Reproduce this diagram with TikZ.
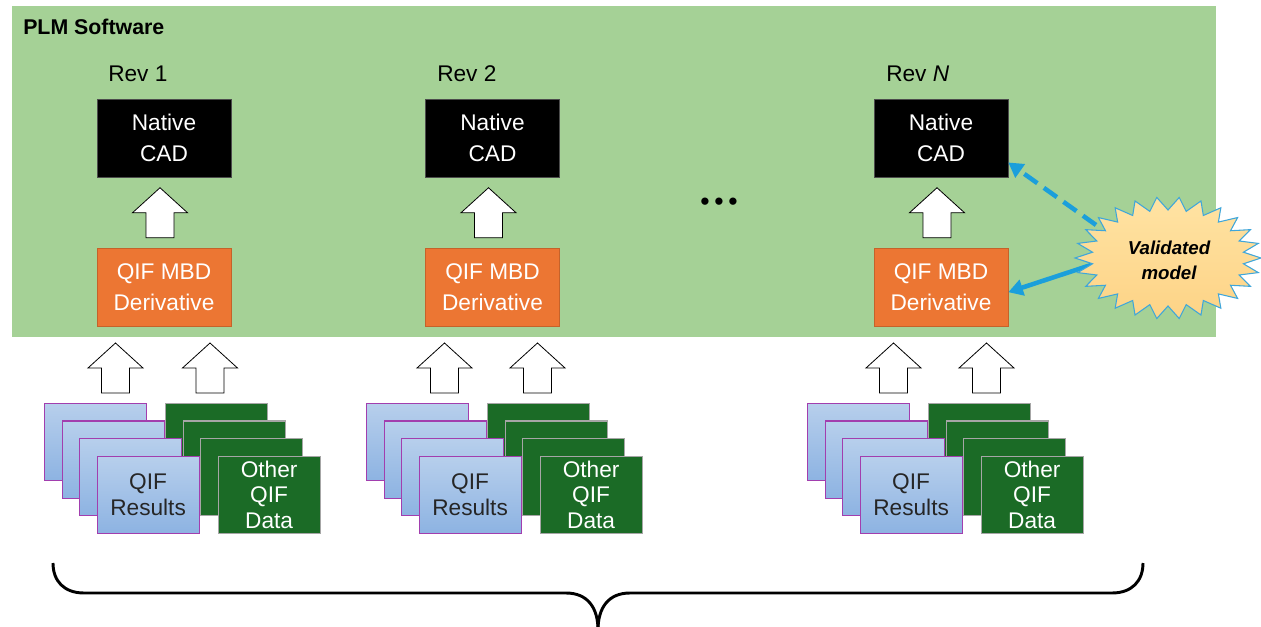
\documentclass[tikz,border=0pt]{standalone}
\usepackage{fontspec}
\setmainfont{Liberation Sans}
\usetikzlibrary{arrows.meta,calc}

\definecolor{plmgreen}{HTML}{A5D196}
\definecolor{mbdorange}{HTML}{EC7633}
\definecolor{mbdborder}{HTML}{C5622A}
\definecolor{resblueA}{HTML}{B7CFEC}
\definecolor{resblueB}{HTML}{8DB3E2}
\definecolor{resborder}{HTML}{A23EAE}
\definecolor{datagreen}{HTML}{1B6B26}
\definecolor{linkblue}{HTML}{1B9FDB}
\definecolor{burstfillA}{HTML}{FFE3A3}
\definecolor{burstfillB}{HTML}{FDD386}
\definecolor{burstedge}{HTML}{3FA6DA}

\begin{document}
\begin{tikzpicture}[x=0.75pt,y=-0.75pt,
  font=\fontsize{17}{20}\selectfont,
  cadbox/.style={fill=black, draw=black!70, text=white, minimum width=100.5pt,
    minimum height=58.5pt, align=center, inner sep=0pt,
    font=\fontsize{17}{23}\selectfont},
  mbdbox/.style={cadbox, fill=mbdorange, draw=mbdborder},
  revlabel/.style={anchor=base west, inner sep=0pt},
  card/.style={anchor=north west, minimum width=76.5pt, minimum height=57.75pt,
    inner sep=0pt, align=center, font=\fontsize{17}{19}\selectfont},
  rescard/.style={card, top color=resblueA, bottom color=resblueB,
    draw=resborder, line width=0.9pt, text=black!85},
  datacard/.style={card, fill=datagreen, draw=black!35, line width=0.9pt, text=white},
  arrowbox/.style={fill=white, draw=black, line width=0.6pt, line join=miter},
  uparrow/.pic={\path[arrowbox] (0,-25) -- (27.5,0) -- (14,0) -- (14,25)
    -- (-14,25) -- (-14,0) -- (-27.5,0) -- cycle;},
  link/.style={linkblue, line width=3.4pt, -{Triangle[length=11pt,width=12pt]}},
  burst/.style={top color=burstfillA, bottom color=burstfillB, draw=burstedge, line width=0.8pt},
]
\useasboundingbox (0,0) rectangle (1261,627);

% PLM software area
\fill[plmgreen] (12,6) rectangle (1216,337);
\node[revlabel, font=\fontsize{16}{18}\selectfont\bfseries] (plm) at (23,35) {PLM Software};

% revision labels
\node[revlabel] (rev1) at (108,82) {Rev 1};
\node[revlabel] (rev2) at (437,82) {Rev 2};
\node[revlabel] (revN) at (886,82) {Rev \textit{N}};

% native CAD models
\node[cadbox] (cad1) at (164,138) {Native\\CAD};
\node[cadbox] (cad2) at (492.5,138) {Native\\CAD};
\node[cadbox] (cadN) at (941,138) {Native\\CAD};

% QIF MBD derivatives
\node[mbdbox] (mbd1) at (164,287.5) {QIF MBD\\Derivative};
\node[mbdbox] (mbd2) at (492.5,287.5) {QIF MBD\\Derivative};
\node[mbdbox] (mbdN) at (941,287.5) {QIF MBD\\Derivative};

% derivative -> CAD block arrows
\pic at ($(cad1.south)!0.5!(mbd1.north)+(-4,0)$) {uparrow};
\pic at ($(cad2.south)!0.5!(mbd2.north)+(-4,0)$) {uparrow};
\pic at ($(cadN.south)!0.5!(mbdN.north)+(-4,0)$) {uparrow};

% ellipsis between revisions
\node[anchor=base, inner sep=0pt, font=\fontsize{20}{20}\selectfont] (dots) at (719,210.5)
  {•\hspace{3.5pt}•\hspace{3.5pt}•};

% stacks of QIF files feeding each revision (only the front cards are labelled)
\foreach \bx/\col in {44/1,366/2,807/3}{
  \foreach \i in {0,1,2}{
    \node[datacard] (data\col-\i) at ({\bx+121+17.5*\i},{403+17.5*\i}) {};
  }
  \node[datacard] (data\col-3) at ({\bx+121+52.5},{455.5}) {Other\\QIF\\Data};
  \foreach \i in {0,1,2}{
    \node[rescard] (res\col-\i) at ({\bx+17.5*\i},{403+17.5*\i}) {};
  }
  \node[rescard] (res\col-3) at ({\bx+52.5},{455.5}) {QIF\\Results};
}

% stack -> derivative block arrows
\foreach \ax in {115.5,210,444.5,537.5,893.5,986.5}{
  \pic at (\ax,368) {uparrow};
}

% validated model links
\coordinate (vmA) at (1096,225);
\coordinate (vmB) at (1094,264);
\draw[link, dash pattern=on 12pt off 6pt] (vmA) -- (cadN.-20);
\draw[link] (vmB) -- (mbdN.-4);

% validated model burst: alternating outer tips and inner notches
\foreach \k in {0,...,51}{
  \pgfmathsetmacro\bang{(360/52)*\k}
  \ifodd\k
    \coordinate (bp\k) at ({1168+76*cos(\bang)},{258+48*sin(\bang)});
  \else
    \coordinate (bp\k) at ({1168+93*cos(\bang)},{258+61*sin(\bang)});
  \fi
}
\path[burst] (bp0) \foreach \k in {1,...,51}{ -- (bp\k)} -- cycle;
\node[align=center, inner sep=0pt, font=\fontsize{14}{18.75}\selectfont\bfseries\itshape]
  (vm) at (1169,260) {Validated\\model};

% brace spanning all revisions
\draw[line width=2.2pt]
  (53,563) .. controls (53,581) and (64,593) .. (84,593) -- (566,593)
  .. controls (587,593) and (598,607) .. (598,630);
\draw[line width=2.2pt]
  (1143,563) .. controls (1143,581) and (1132,593) .. (1112,593) -- (630,593)
  .. controls (609,593) and (598,607) .. (598,630);
\end{tikzpicture}
\end{document}
